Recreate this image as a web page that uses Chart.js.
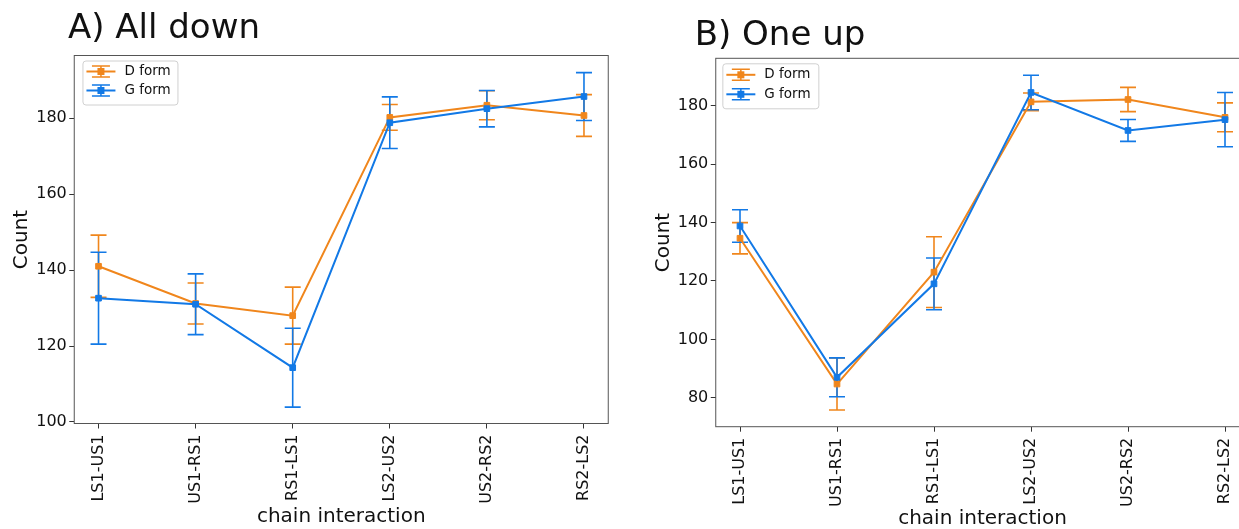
<!DOCTYPE html>
<html>
<head>
<meta charset="utf-8">
<script src="https://cdn.jsdelivr.net/npm/chart.js@4.4.1/dist/chart.umd.min.js"></script>
<style>
  html, body { margin: 0; padding: 0; width: 1239px; height: 529px; overflow: hidden; background: #fff; }
  #wrapA { position: absolute; left: 0; top: 0; width: 620px; height: 529px; }
  #wrapB { position: absolute; left: 630px; top: 0; width: 640px; height: 529px; }
</style>
</head>
<body>
<div id="wrapA"><canvas id="chartA" width="620" height="529"></canvas></div>
<div id="wrapB"><canvas id="chartB" width="640" height="529"></canvas></div>
<script>
// Chain-interaction categories shared by both panels
const categories = ['LS1-US1', 'US1-RS1', 'RS1-LS1', 'LS2-US2', 'US2-RS2', 'RS2-LS2'];

// Panel A: all down
const dFormA = [141.0, 131.2, 128.0, 180.2, 183.4, 180.7];
const dErrA  = [8.2, 5.4, 7.5, 3.4, 3.8, 5.5];
const gFormA = [132.6, 131.0, 114.3, 178.8, 182.5, 185.7];
const gErrA  = [12.1, 8.0, 10.4, 6.8, 4.8, 6.3];

// Panel B: one up
const dFormB = [134.6, 84.7, 123.0, 181.3, 182.1, 176.0];
const dErrB  = [5.35, 8.9, 12.1, 3.0, 4.15, 4.95];
const gFormB = [138.8, 87.0, 119.0, 184.5, 171.5, 175.2];
const gErrB  = [5.55, 6.65, 8.85, 5.9, 3.75, 9.3];

// Y tick labels
const yTicksA = [100, 120, 140, 160, 180];
const yTicksB = [80, 100, 120, 140, 160, 180];

const seriesLabels = ['D form', 'G form'];
const ORANGE = '#f0861c';
const BLUE = '#1279e6';
const TEXT = '#111';

Chart.defaults.font.family = '"DejaVu Sans", sans-serif';
Chart.defaults.color = TEXT;

// Vertical error bars with caps, drawn beneath the series lines
const errorBarPlugin = {
  id: 'errorBars',
  beforeDatasetsDraw(chart, args, opts) {
    const { ctx } = chart;
    const xs = chart.scales.x, ys = chart.scales.y;
    chart.data.datasets.forEach(ds => {
      ctx.save();
      ctx.strokeStyle = ds.borderColor;
      ctx.lineWidth = opts.width;
      ds.data.forEach((p, i) => {
        const e = ds.errors[i];
        const x = xs.getPixelForValue(p.x);
        const y1 = ys.getPixelForValue(p.y + e);
        const y2 = ys.getPixelForValue(p.y - e);
        ctx.beginPath();
        ctx.moveTo(x, y1); ctx.lineTo(x, y2);
        ctx.moveTo(x - opts.cap, y1); ctx.lineTo(x + opts.cap, y1);
        ctx.moveTo(x - opts.cap, y2); ctx.lineTo(x + opts.cap, y2);
        ctx.stroke();
      });
      ctx.restore();
    });
  }
};

// Box around the plotting area
const framePlugin = {
  id: 'frame',
  afterDatasetsDraw(chart, args, opts) {
    const { ctx, chartArea: a } = chart;
    ctx.save();
    ctx.strokeStyle = opts.color;
    ctx.lineWidth = 1;
    ctx.strokeRect(a.left, a.top, a.right - a.left, a.bottom - a.top);
    ctx.restore();
  }
};

// Legend box inside the upper-left corner of the plot
const boxLegendPlugin = {
  id: 'boxLegend',
  afterDatasetsDraw(chart, args, opts) {
    const { ctx, chartArea: a } = chart;
    const bx = a.left + opts.dx, by = a.top + opts.dy;
    ctx.save();
    ctx.beginPath();
    ctx.roundRect(bx + 0.5, by + 0.5, opts.w, opts.h, 3);
    ctx.fillStyle = 'rgba(255,255,255,0.85)';
    ctx.fill();
    ctx.strokeStyle = '#d0d0d0';
    ctx.lineWidth = 1;
    ctx.stroke();
    [0, 1].forEach((di, row) => {
      const ds = chart.data.datasets[di];
      const cy = by + opts.rowY[row];
      const x0 = bx + 4, x1 = bx + 33, cx = (x0 + x1) / 2;
      ctx.strokeStyle = ds.borderColor;
      ctx.lineWidth = 2;
      ctx.beginPath(); ctx.moveTo(x0, cy); ctx.lineTo(x1, cy); ctx.stroke();
      ctx.lineWidth = 1.5;
      ctx.beginPath();
      ctx.moveTo(cx, cy - 5.5); ctx.lineTo(cx, cy + 5.5);
      ctx.moveTo(cx - 9, cy - 5.5); ctx.lineTo(cx + 9, cy - 5.5);
      ctx.moveTo(cx - 9, cy + 5.5); ctx.lineTo(cx + 9, cy + 5.5);
      ctx.stroke();
      ctx.fillStyle = ds.borderColor;
      ctx.fillRect(cx - 3.5, cy - 3.5, 7, 7);
      ctx.fillStyle = TEXT;
      ctx.font = '13.5px "DejaVu Sans"';
      ctx.textBaseline = 'middle';
      ctx.textAlign = 'left';
      ctx.fillText(ds.label, bx + 42, cy);
    });
    ctx.restore();
  }
};

// Panel heading
const panelTitlePlugin = {
  id: 'panelTitle',
  afterDraw(chart, args, opts) {
    const { ctx } = chart;
    ctx.save();
    ctx.fillStyle = TEXT;
    ctx.font = '34px "DejaVu Sans"';
    ctx.textBaseline = 'alphabetic';
    ctx.textAlign = 'left';
    ctx.fillText(opts.text, opts.x, opts.y);
    ctx.restore();
  }
};

function toPoints(arr) {
  return arr.map((v, i) => ({ x: i, y: v }));
}

function makeChart(id, cfg) {
  const lineStyle = color => ({
    borderColor: color,
    backgroundColor: color,
    borderWidth: 2,
    pointStyle: 'rect',
    pointRadius: 4,
    pointBorderWidth: 1,
    pointBackgroundColor: color,
    pointBorderColor: color,
    tension: 0,
    fill: false
  });
  return new Chart(document.getElementById(id), {
    type: 'line',
    data: {
      datasets: [
        Object.assign({ label: seriesLabels[0], data: toPoints(cfg.d), errors: cfg.dErr, order: 1 }, lineStyle(ORANGE)),
        Object.assign({ label: seriesLabels[1], data: toPoints(cfg.g), errors: cfg.gErr, order: 0 }, lineStyle(BLUE))
      ]
    },
    options: {
      responsive: false,
      animation: false,
      events: [],
      layout: { padding: cfg.padding },
      plugins: {
        legend: { display: false },
        tooltip: { enabled: false },
        errorBars: { width: 1.6, cap: 8 },
        frame: { color: '#555' },
        boxLegend: cfg.legend,
        panelTitle: cfg.title
      },
      scales: {
        x: {
          type: 'linear',
          min: -0.25,
          max: categories.length - 0.75,
          afterBuildTicks: s => { s.ticks = categories.map((_, i) => ({ value: i })); },
          afterFit: s => { s.height = cfg.xHeight; },
          ticks: {
            callback: v => categories[v],
            minRotation: 90,
            maxRotation: 90,
            autoSkip: false,
            padding: 6,
            font: { size: 16 },
            color: TEXT
          },
          grid: { drawOnChartArea: false, drawTicks: true, tickLength: 5, color: '#333' },
          border: { display: false },
          title: {
            display: true,
            text: 'chain interaction',
            font: { size: 20, lineHeight: 1 },
            color: TEXT,
            padding: { top: 0, bottom: cfg.xTitlePad }
          }
        },
        y: {
          type: 'linear',
          min: cfg.yMin,
          max: cfg.yMax,
          afterBuildTicks: s => { s.ticks = cfg.yTicks.map(v => ({ value: v })); },
          afterFit: s => { s.width = cfg.yWidth; },
          ticks: { font: { size: 16 }, color: TEXT, padding: 2.5 },
          grid: { drawOnChartArea: false, drawTicks: true, tickLength: 5, color: '#333' },
          border: { display: false },
          title: {
            display: true,
            text: 'Count',
            font: { size: 20, lineHeight: 1 },
            color: TEXT,
            padding: { top: cfg.yTitlePad, bottom: 0 }
          }
        }
      }
    },
    plugins: [errorBarPlugin, framePlugin, boxLegendPlugin, panelTitlePlugin]
  });
}

makeChart('chartA', {
  d: dFormA, dErr: dErrA, g: gFormA, gErr: gErrA,
  yTicks: yTicksA, yMin: 99.6, yMax: 196.5,
  padding: { top: 55.5, left: 0, right: 11.75, bottom: 0 },
  yWidth: 74.25, xHeight: 105.5,
  yTitlePad: 12, xTitlePad: 2,
  legend: { dx: 8.2, dy: 5, w: 95, h: 44, rowY: [11, 30] },
  title: { text: 'A) All down', x: 68, y: 38 }
});

makeChart('chartB', {
  d: dFormB, dErr: dErrB, g: gFormB, gErr: gErrB,
  yTicks: yTicksB, yMin: 70.1, yMax: 196.2,
  padding: { top: 58.3, left: 0, right: 20.75, bottom: 0 },
  yWidth: 85.75, xHeight: 102.3,
  yTitlePad: 23.5, xTitlePad: 0,
  legend: { dx: 6.6, dy: 5, w: 96, h: 45, rowY: [11.5, 31] },
  title: { text: 'B) One up', x: 64.7, y: 45 }
});
</script>
</body>
</html>
